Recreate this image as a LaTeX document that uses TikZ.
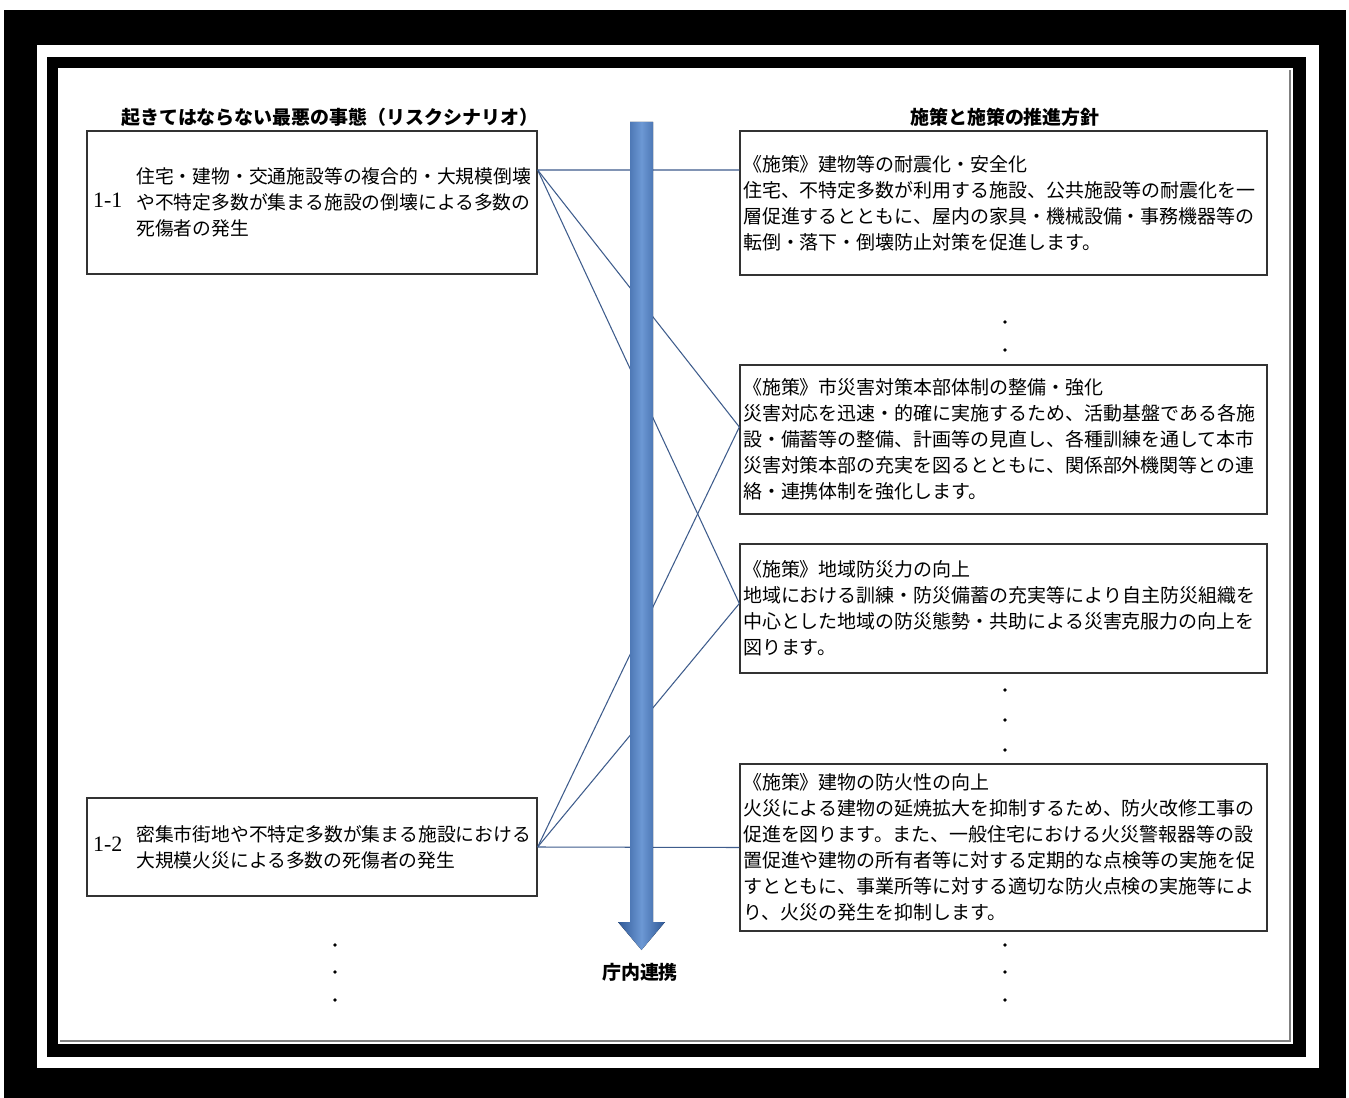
\documentclass[tikz,border=0pt]{standalone}
\usepackage{fontspec}
\setmainfont{Noto Sans CJK JP}
\newfontfamily\latfont{Liberation Serif}
\usetikzlibrary{positioning}
\definecolor{linkblue}{RGB}{62,92,140}
\definecolor{arrowedge}{RGB}{47,88,150}
\definecolor{arrowmid}{RGB}{108,152,212}

\begin{document}
\begin{tikzpicture}[x=0.02cm, y=-0.02cm,
  every node/.style={inner sep=0pt},
  scen/.style={draw=black!80, line width=0.8pt, minimum width=9cm,
    text width=8.76cm, align=left, inner xsep=0.12cm,
    font=\fontsize{10.7}{14.74}\selectfont},
  plan/.style={draw=black!80, line width=0.8pt, minimum width=10.54cm,
    text width=10.42cm, align=left, inner xsep=0.06cm,
    font=\fontsize{10.8}{14.74}\selectfont},
  head/.style={font=\fontsize{10.8}{12}\selectfont\bfseries},
  link/.style={draw=linkblue, line width=0.6pt}
]
\useasboundingbox (0,0) rectangle (1349,1098);
% frame
\fill (4,10) rectangle (1346,1098);
\fill[white] (37,45) rectangle (1319,1068);
\fill (47,57) rectangle (1306,1057);
\fill[white] (58,68) rectangle (1293,1044);
\draw[gray, line width=0.8pt] (1290,70) -- (1290,1041) -- (60,1041);

% headings
\node[head] (hdrRisk) at (330,117) {起きてはならない最悪の事態（リスクシナリオ）};
\node[head] (hdrPlan) at (1005,117) {施策と施策の推進方針};

% risk scenarios
\node[scen, minimum height=2.86cm] (risk1) at (312,202.5)
  {{\latfont\fontsize{12.5}{14}\selectfont 1-1}\hspace{0.28cm}\parbox[c]{8cm}{住宅・建物・交通施設等の複合的・大規模倒壊\\
   や不特定多数が集まる施設の倒壊による多数の\\
   死傷者の発生}};
\node[scen, minimum height=1.96cm] (risk2) at (312,847)
  {{\latfont\fontsize{12.5}{14}\selectfont 1-2}\hspace{0.28cm}\parbox[c]{8cm}{密集市街地や不特定多数が集まる施設における\\
   大規模火災による多数の死傷者の発生}};

% measures
\node[plan, minimum height=2.88cm] (plan1) at (1003.5,203)
  {《施策》建物等の耐震化・安全化\\
   住宅、不特定多数が利用する施設、公共施設等の耐震化を一\\
   層促進するとともに、屋内の家具・機械設備・事務機器等の\\
   転倒・落下・倒壊防止対策を促進します。};
\node[plan, minimum height=2.98cm] (plan2) at (1003.5,439.5)
  {《施策》市災害対策本部体制の整備・強化\\
   災害対応を迅速・的確に実施するため、活動基盤である各施\\
   設・備蓄等の整備、計画等の見直し、各種訓練を通して本市\\
   災害対策本部の充実を図るとともに、関係部外機関等との連\\
   絡・連携体制を強化します。};
\node[plan, minimum height=2.58cm] (plan3) at (1003.5,608.5)
  {《施策》地域防災力の向上\\
   地域における訓練・防災備蓄の充実等により自主防災組織を\\
   中心とした地域の防災態勢・共助による災害克服力の向上を\\
   図ります。};
\node[plan, minimum height=3.34cm] (plan4) at (1003.5,847.5)
  {《施策》建物の防火性の向上\\
   火災による建物の延焼拡大を抑制するため、防火改修工事の\\
   促進を図ります。また、一般住宅における火災警報器等の設\\
   置促進や建物の所有者等に対する定期的な点検等の実施を促\\
   すとともに、事業所等に対する適切な防火点検の実施等によ\\
   り、火災の発生を抑制します。};

% links
\coordinate (r1out) at ([yshift=0.65cm]risk1.east);
\coordinate (p1in) at ([yshift=0.66cm]plan1.west);
\coordinate (p2in) at ([yshift=0.25cm]plan2.west);
\coordinate (p3in) at ([yshift=0.1cm]plan3.west);
\foreach \t in {p1in,p2in,p3in}
  \draw[link] (r1out) -- (\t);
\foreach \t in {p2in,p3in,plan4.west}
  \draw[link] (risk2.east) -- (\t);

% cooperation arrow
\fill[left color=arrowedge, right color=arrowedge, middle color=arrowmid]
  (630,122) -- (653,122) -- (653,922) -- (665,922) -- (641.5,950)
  -- (618,922) -- (630,922) -- cycle;
\node[head] (intra) at (640,972) {庁内連携};

% continuation dots
\foreach \y in {322,350,690,720,750,945,972,1000}
  \fill (1005,\y) circle[radius=0.036cm];
\foreach \y in {945,972,1000}
  \fill (335,\y) circle[radius=0.036cm];
\end{tikzpicture}
\end{document}
